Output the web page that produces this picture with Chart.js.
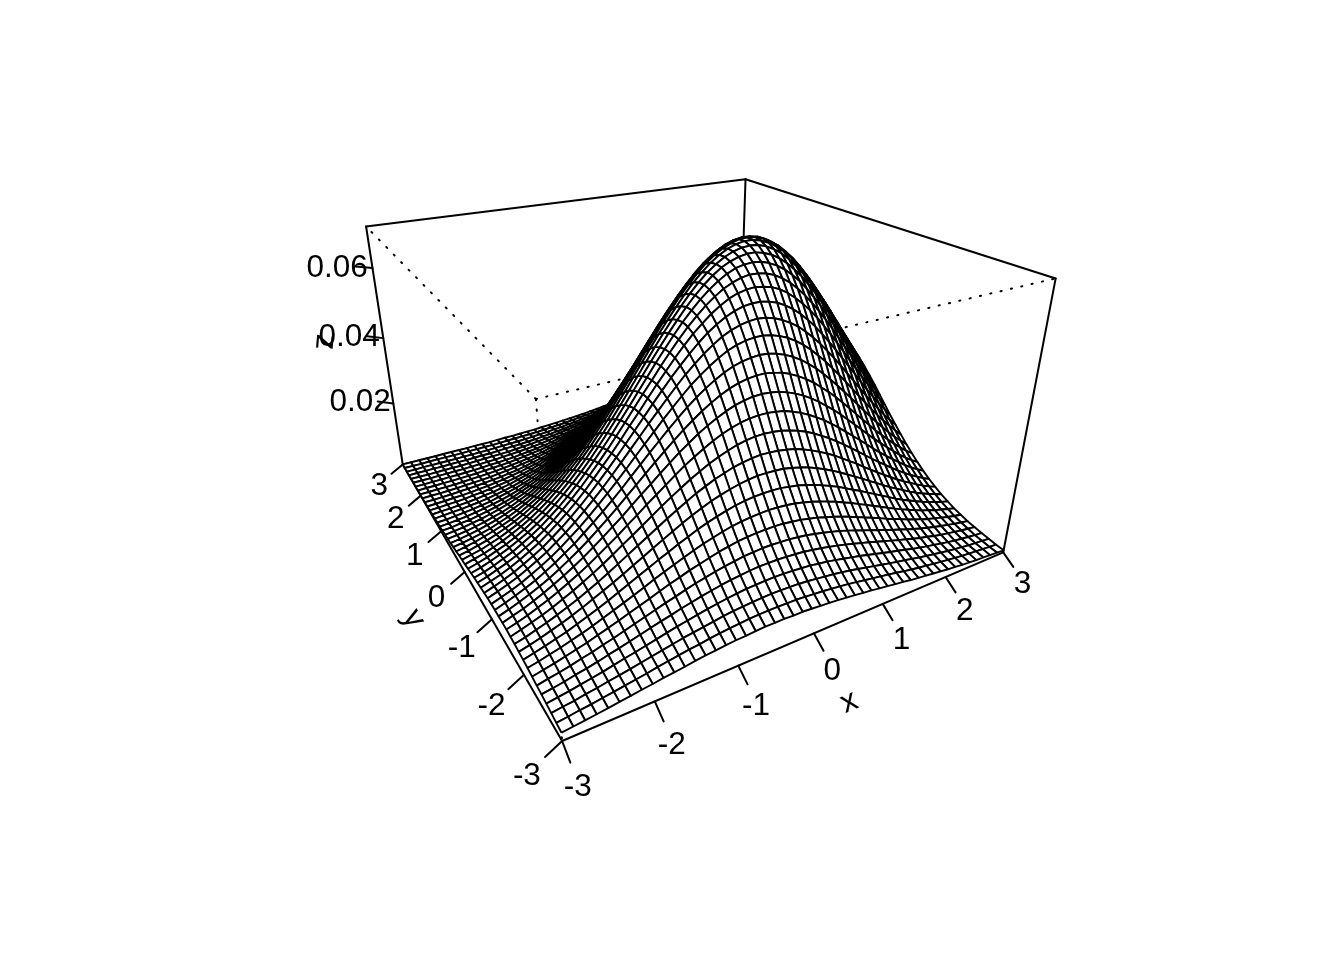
<!DOCTYPE html>
<html>
<head>
<meta charset="utf-8">
<script src="https://cdn.jsdelivr.net/npm/chart.js@4"></script>
<style>
	body { margin: 0; background: #fff; }
	canvas { display: block; }
</style>
</head>
<body>
<canvas id="chart" width="1344" height="960"></canvas>
<script>
const ctx = document.getElementById('chart');

const xValues = [-3, -2.878, -2.755, -2.633, -2.51, -2.388, -2.265, -2.143, -2.02, -1.898, -1.776, -1.653, -1.531, -1.408, -1.286, -1.163, -1.041, -0.918, -0.796, -0.673, -0.551, -0.429, -0.306, -0.184, -0.061, 0.061, 0.184, 0.306, 0.429, 0.551, 0.673, 0.796, 0.918, 1.041, 1.163, 1.286, 1.408, 1.531, 1.653, 1.776, 1.898, 2.02, 2.143, 2.265, 2.388, 2.51, 2.633, 2.755, 2.878, 3];
const yValues = [-3, -2.878, -2.755, -2.633, -2.51, -2.388, -2.265, -2.143, -2.02, -1.898, -1.776, -1.653, -1.531, -1.408, -1.286, -1.163, -1.041, -0.918, -0.796, -0.673, -0.551, -0.429, -0.306, -0.184, -0.061, 0.061, 0.184, 0.306, 0.429, 0.551, 0.673, 0.796, 0.918, 1.041, 1.163, 1.286, 1.408, 1.531, 1.653, 1.776, 1.898, 2.02, 2.143, 2.265, 2.388, 2.51, 2.633, 2.755, 2.878, 3];
// estimated surface heights in units of 0.0001 (rows: y, columns: x)
const zGrid = [
	[21,24,27,30,33,37,40,44,47,51,54,57,61,64,66,69,71,72,74,75,75,75,74,74,72,70,68,66,63,60,57,54,50,47,43,40,36,33,30,27,24,21,19,16,14,12,11,9,8,6],
	[24,27,31,34,38,42,46,50,54,59,63,67,71,74,78,81,84,86,88,89,90,90,89,89,87,85,83,80,77,74,70,66,62,58,54,50,45,41,37,34,30,27,24,21,18,16,14,12,10,8],
	[27,31,34,39,43,48,52,57,62,67,72,77,82,86,90,94,98,101,103,105,106,107,107,106,105,103,100,97,94,90,86,81,76,71,66,61,56,52,47,42,38,34,30,26,23,20,17,15,13,11],
	[30,34,38,43,48,53,59,65,70,76,82,88,94,99,104,109,113,117,120,123,124,125,126,125,124,122,120,116,113,108,103,98,93,87,81,75,69,64,58,52,47,42,38,33,29,25,22,19,16,14],
	[33,37,42,48,53,59,66,72,79,86,93,100,106,113,119,125,130,135,139,142,145,147,147,147,146,144,142,138,134,129,124,118,112,105,99,92,85,78,71,65,58,52,47,41,36,32,28,24,21,18],
	[35,41,46,52,59,65,73,80,88,96,104,112,120,127,135,142,148,154,159,163,167,169,171,171,170,169,166,163,158,153,147,141,134,126,118,110,102,94,86,79,71,64,57,51,45,40,35,30,26,22],
	[38,44,50,57,64,71,80,88,97,106,115,124,134,143,151,160,167,174,181,186,191,194,196,197,197,196,193,190,185,180,173,166,158,150,141,132,123,114,104,95,87,78,70,62,55,49,43,37,32,28],
	[41,47,54,61,69,77,86,96,106,116,126,137,148,158,168,178,187,196,203,210,216,220,223,225,226,225,223,220,215,209,202,194,186,176,167,156,146,135,125,114,104,94,85,76,67,60,52,46,40,34],
	[43,50,57,65,73,83,93,103,114,126,138,150,162,174,185,197,207,218,227,235,242,248,252,255,256,256,255,251,247,241,234,225,216,206,195,183,172,160,148,136,124,112,101,91,81,72,63,56,48,42],
	[45,52,60,69,78,88,99,111,123,135,148,162,175,189,202,215,228,240,251,261,269,276,282,286,289,289,288,286,281,275,268,259,249,238,226,213,200,187,173,160,146,133,121,109,97,86,76,67,59,51],
	[47,54,63,72,82,93,104,117,130,144,159,174,189,204,219,234,248,262,275,286,297,305,313,318,322,324,323,321,317,312,304,295,284,273,260,246,231,217,201,186,171,156,142,128,115,103,91,80,70,61],
	[48,56,65,74,85,97,109,123,137,152,168,185,201,218,235,252,268,283,298,311,324,334,343,351,356,359,360,358,355,349,342,333,322,309,296,281,265,249,232,215,198,182,166,150,135,121,107,95,83,73],
	[49,57,66,77,88,100,114,128,143,160,177,194,213,231,250,268,286,304,321,336,350,363,374,383,390,394,396,396,393,389,381,372,361,348,334,318,301,283,265,247,228,209,191,174,157,141,125,111,98,86],
	[49,58,67,78,90,103,117,132,148,166,184,203,222,243,263,283,303,323,342,359,376,390,403,414,423,429,433,434,432,428,421,412,401,388,373,356,339,320,300,280,260,239,219,200,181,163,145,129,114,101],
	[49,58,68,79,91,104,119,135,152,170,190,210,231,253,275,297,319,340,361,381,399,416,431,444,455,463,468,471,471,467,462,453,442,429,414,396,378,358,337,315,293,271,249,227,206,186,167,149,132,117],
	[49,58,68,79,91,105,120,137,154,174,194,215,237,260,284,308,332,355,378,400,421,440,457,472,485,495,502,506,508,506,501,493,483,470,454,437,417,396,374,351,328,304,280,257,234,212,190,170,152,134],
	[48,57,67,78,91,105,120,137,156,175,196,219,242,266,291,317,342,367,392,416,439,461,480,497,512,525,534,540,543,543,539,532,523,510,495,477,457,436,412,388,363,338,312,287,262,238,215,193,172,153],
	[47,56,66,77,90,104,119,137,155,175,197,220,244,270,296,323,350,377,403,429,454,478,499,519,536,551,562,570,575,577,575,569,560,548,534,516,496,474,450,425,399,372,345,318,291,265,240,216,193,172],
	[45,54,64,75,88,102,117,135,154,174,196,220,245,271,298,326,354,383,411,439,466,491,515,537,557,573,587,597,604,607,607,603,596,585,571,554,534,512,487,461,434,406,378,350,321,293,266,240,216,192],
	[43,52,61,72,85,99,114,132,151,171,193,217,243,270,297,326,356,385,415,445,473,501,527,551,572,591,607,620,629,634,636,633,628,618,605,588,569,547,523,496,469,440,410,380,351,321,293,265,238,213],
	[41,49,59,69,81,95,110,127,146,167,189,213,239,266,294,324,354,385,416,446,477,506,534,560,583,604,622,637,648,656,660,659,655,647,635,620,601,579,555,529,501,472,441,410,380,349,319,289,261,234],
	[39,46,55,66,77,91,106,122,141,161,183,207,233,260,288,318,349,380,412,444,476,506,536,564,589,612,632,649,663,673,678,680,678,671,661,647,629,609,585,559,531,501,470,439,407,375,344,313,283,255],
	[36,43,52,62,73,86,100,116,134,154,176,199,224,251,280,310,341,373,405,438,470,502,533,562,590,615,637,656,672,683,691,695,695,690,682,669,653,633,611,585,558,528,497,465,433,400,367,336,305,275],
	[33,40,48,58,68,80,94,110,127,146,167,190,215,241,270,299,330,362,395,428,461,494,526,556,585,612,636,657,674,688,698,704,706,704,697,686,672,653,632,607,580,551,520,488,456,423,390,357,325,294],
	[30,37,44,53,63,75,88,102,119,137,158,180,204,230,257,287,317,349,381,415,448,481,514,545,575,603,629,651,671,687,699,707,711,711,706,697,684,668,648,625,599,570,540,508,476,442,409,376,343,312],
	[28,34,40,49,58,69,81,95,111,128,147,169,192,216,243,272,302,333,365,398,431,465,497,530,560,590,616,640,662,679,693,703,710,711,709,702,691,677,658,637,612,585,555,524,492,459,426,392,359,327],
	[25,30,37,44,53,63,74,87,102,118,136,156,178,202,228,255,284,315,346,379,412,445,478,510,541,571,599,624,647,666,682,694,702,706,705,701,692,679,663,643,620,594,566,536,505,472,439,406,373,341],
	[22,27,33,40,48,57,67,79,93,108,125,144,165,187,212,238,266,295,325,357,389,422,454,486,518,548,576,602,626,647,664,678,688,694,696,693,687,676,662,644,622,598,572,543,513,481,449,416,384,352],
	[20,24,29,35,42,51,60,71,84,98,114,131,151,172,195,219,246,274,303,333,365,396,428,460,491,521,550,577,601,623,641,657,668,676,680,679,675,667,654,638,619,597,572,545,516,486,455,423,391,359],
	[17,21,26,31,38,45,54,64,75,88,103,119,137,156,178,201,226,252,280,309,339,369,400,431,462,491,520,547,572,594,614,630,643,653,658,660,658,651,641,628,611,591,568,543,515,486,457,426,395,364],
	[15,18,22,27,33,40,47,56,67,78,92,106,123,141,161,182,205,230,256,283,312,341,371,400,430,459,487,514,539,562,582,600,614,625,632,635,635,631,623,612,597,579,558,535,510,483,454,425,395,366],
	[13,16,19,24,29,35,42,50,59,69,81,94,109,126,144,164,185,208,232,258,284,312,340,369,397,425,453,479,504,526,547,565,580,592,601,606,608,606,600,591,578,562,544,523,500,475,448,420,392,364],
	[11,13,17,20,25,30,36,43,51,61,71,83,96,111,128,146,165,186,208,232,257,283,309,336,363,390,416,442,466,489,510,528,544,557,567,573,576,576,572,565,555,541,525,506,485,462,438,412,386,359],
	[9,11,14,17,21,26,31,37,44,52,62,72,84,98,112,129,146,165,186,208,230,254,279,304,329,355,380,404,428,450,471,489,505,519,530,537,542,543,541,536,528,517,503,486,467,447,424,400,376,351],
	[8,9,12,15,18,22,26,32,38,45,53,63,73,85,98,112,128,145,164,184,204,226,249,272,296,320,343,367,389,410,430,449,465,479,490,499,505,507,507,504,498,488,477,462,446,427,407,385,363,339],
	[6,8,10,12,15,18,22,27,32,38,45,54,63,73,85,97,112,127,143,161,180,200,220,242,264,286,308,329,351,371,390,408,424,438,450,459,466,470,471,469,465,458,448,436,422,405,387,368,347,326],
	[5,7,8,10,12,15,19,22,27,32,39,46,53,62,73,84,96,110,124,140,157,175,193,213,232,253,273,293,313,332,351,368,383,397,409,419,426,431,433,433,430,425,417,407,395,381,365,348,329,310],
	[4,5,7,8,10,13,15,19,23,27,32,38,45,53,62,71,82,94,107,121,136,151,168,185,203,222,240,259,277,295,312,329,343,357,369,379,386,392,395,396,395,391,385,377,367,355,341,326,310,292],
	[3,4,5,7,8,10,13,15,19,22,27,32,38,44,52,60,69,80,91,103,116,130,145,160,176,193,210,227,243,260,276,291,305,318,329,339,347,353,357,359,359,357,352,346,338,327,316,303,288,273],
	[3,3,4,5,7,8,10,13,15,18,22,26,31,37,43,50,58,67,77,87,98,111,124,137,151,166,181,196,212,226,241,255,268,280,292,301,309,316,320,323,324,323,320,315,308,300,290,279,266,253],
	[2,3,3,4,5,7,8,10,12,15,18,22,26,30,36,42,48,56,64,73,83,93,105,117,129,142,155,169,182,196,209,222,234,245,256,265,273,279,284,288,289,289,287,284,278,272,264,254,244,232],
	[2,2,3,3,4,5,7,8,10,12,15,18,21,25,29,34,40,46,53,61,69,78,88,98,109,120,132,144,156,168,179,191,202,213,222,231,239,245,250,254,256,257,256,253,249,244,237,230,221,211],
	[1,2,2,3,3,4,5,6,8,10,12,14,17,20,24,28,33,38,44,50,57,65,73,82,91,101,111,121,132,142,153,163,173,183,192,200,207,213,218,222,225,226,226,224,221,217,212,206,198,190],
	[1,1,2,2,3,3,4,5,6,8,9,11,13,16,19,22,26,31,36,41,47,53,60,68,75,84,92,101,110,120,129,138,147,156,164,171,178,184,189,192,195,197,197,197,195,192,188,183,177,170],
	[1,1,1,2,2,3,3,4,5,6,7,9,11,13,15,18,21,25,29,33,38,43,49,55,62,69,76,84,92,100,108,116,124,131,138,145,151,157,161,165,168,170,171,171,170,168,165,161,156,150],
	[1,1,1,1,2,2,2,3,4,5,6,7,8,10,12,14,17,20,23,27,31,35,40,45,50,56,62,69,76,82,89,96,103,110,116,122,128,133,137,141,144,146,147,147,147,146,143,140,136,132],
	[0,1,1,1,1,2,2,2,3,4,4,5,7,8,9,11,13,16,18,21,24,28,32,36,41,45,51,56,62,67,73,79,85,91,96,102,107,111,115,119,121,124,125,126,126,125,123,121,118,115],
	[0,0,1,1,1,1,1,2,2,3,3,4,5,6,7,9,10,12,14,17,19,22,25,29,32,36,41,45,50,55,60,65,70,75,79,84,88,92,96,99,102,104,106,106,107,106,105,104,101,99],
	[0,0,0,1,1,1,1,1,2,2,3,3,4,5,6,7,8,9,11,13,15,17,20,23,26,29,32,36,40,44,48,52,57,61,65,69,73,76,79,82,85,87,88,89,90,90,89,88,86,84],
	[0,0,0,0,0,1,1,1,1,2,2,2,3,4,4,5,6,7,9,10,12,14,16,18,20,23,26,29,32,35,38,42,45,49,52,56,59,62,65,68,70,72,73,74,75,75,75,74,73,71],
];
const xTicks = [-3, -2, -1, 0, 1, 2, 3];
const yTicks = [-3, -2, -1, 0, 1, 2, 3];
const zTicks = [0.02, 0.04, 0.06];

const zMin = 0;
const zMax = 0.0712;

// same camera as persp(theta = -30, phi = 25, expand = 0.6)
const theta = (-30 * Math.PI) / 180;
const phi = (25 * Math.PI) / 180;
const expand = 0.6;
const eye = Math.sqrt(3) + 1;

function toBox(x, y, z) {
	return [x / 3, y / 3, expand * (2 * (z - zMin) / (zMax - zMin) - 1)];
}

function view(b) {
	const x1 = b[0] * Math.cos(theta) + b[1] * Math.sin(theta);
	const z1 = b[0] * Math.sin(theta) - b[1] * Math.cos(theta);
	const y2 = Math.cos(phi) * b[2] - Math.sin(phi) * z1;
	const z2 = Math.sin(phi) * b[2] + Math.cos(phi) * z1;
	const w = 1 + eye - z2;
	return { x: x1 / w, y: y2 / w, depth: z2 };
}

function project(x, y, z) {
	return view(toBox(x, y, z));
}

const datasets = [];

function addLine(points, dash) {
	datasets.push({
		data: points,
		showLine: true,
		borderColor: '#000',
		borderWidth: 2,
		borderDash: dash || [],
		borderCapStyle: 'round',
		pointRadius: 0,
		fill: false,
		clip: false,
	});
}

// mesh cells, nearest first because the first dataset ends up on top
const cells = [];
for (let j = 0; j < yValues.length - 1; j++) {
	for (let i = 0; i < xValues.length - 1; i++) {
		const pts = [
			project(xValues[i], yValues[j], zGrid[j][i] / 10000),
			project(xValues[i + 1], yValues[j], zGrid[j][i + 1] / 10000),
			project(xValues[i + 1], yValues[j + 1], zGrid[j + 1][i + 1] / 10000),
			project(xValues[i], yValues[j + 1], zGrid[j + 1][i] / 10000),
		];
		cells.push({ pts, depth: pts.reduce((s, p) => s + p.depth, 0) / 4 });
	}
}
cells.sort((a, b) => b.depth - a.depth);
cells.forEach((c) => {
	datasets.push({
		data: [...c.pts, c.pts[0]],
		showLine: true,
		borderColor: '#000',
		borderWidth: 1.9,
		borderJoinStyle: 'round',
		backgroundColor: '#fff',
		fill: 'shape',
		pointRadius: 0,
		clip: false,
	});
});

// ticks
const tickLen = 0.03;
const labelLen = 0.06;
const titleLen = 0.11;
const labels = [];

function offset(x, y, z, dir, len) {
	return view([x / 3 + dir[0] * 2 * len, y / 3 + dir[1] * 2 * len, toBox(0, 0, z)[2] + dir[2] * 2 * expand * len]);
}

xTicks.forEach((t) => {
	const dir = [0, -1, -1];
	addLine([project(t, -3, zMin), offset(t, -3, zMin, dir, tickLen)]);
	labels.push({ text: String(t), at: offset(t, -3, zMin, dir, labelLen), rot: 0 });
});
yTicks.forEach((t) => {
	const dir = [-1, 0, -1];
	addLine([project(-3, t, zMin), offset(-3, t, zMin, dir, tickLen)]);
	labels.push({ text: String(t), at: offset(-3, t, zMin, dir, labelLen), rot: 0 });
});
zTicks.forEach((t) => {
	const dir = [-1, 1, 0];
	addLine([project(-3, 3, t), offset(-3, 3, t, dir, tickLen)]);
	labels.push({ text: t.toFixed(2), at: offset(-3, 3, t, dir, labelLen + 0.002), rot: 0 });
});
labels.push({ text: 'x', at: offset(0, -3, zMin, [0, -1, -1], titleLen), rot: -23 });
labels.push({ text: 'y', at: offset(-3, 0, zMin, [-1, 0, -1], titleLen), rot: 60 });
labels.push({ text: 'z', at: offset(-3, 3, 0.0378, [-1, 1, 0], titleLen), rot: 95 });

// box
const c = (x, y, z) => project(x, y, z);
[
	[c(-3, -3, zMin), c(3, -3, zMin)],
	[c(-3, -3, zMin), c(-3, 3, zMin)],
	[c(3, 3, zMin), c(3, -3, zMin)],
	[c(3, 3, zMin), c(-3, 3, zMin)],
	[c(-3, 3, zMin), c(-3, 3, zMax)],
	[c(3, -3, zMin), c(3, -3, zMax)],
	[c(3, 3, zMin), c(3, 3, zMax)],
	[c(-3, 3, zMax), c(3, 3, zMax)],
	[c(3, 3, zMax), c(3, -3, zMax)],
].forEach((e) => addLine(e));
[
	[c(-3, -3, zMax), c(-3, 3, zMax)],
	[c(-3, -3, zMax), c(3, -3, zMax)],
	[c(-3, -3, zMax), c(-3, -3, zMin)],
].forEach((e) => addLine(e, [1.2, 9.4]));

const axisText = {
	id: 'axisText',
	afterDatasetsDraw(chart) {
		const g = chart.ctx;
		g.save();
		g.fillStyle = '#000';
		g.font = '31.5px "Liberation Sans"';
		g.textAlign = 'center';
		g.textBaseline = 'middle';
		labels.forEach((l) => {
			g.save();
			g.translate(chart.scales.x.getPixelForValue(l.at.x) - 1, chart.scales.y.getPixelForValue(l.at.y) + 3);
			g.rotate((l.rot * Math.PI) / 180);
			g.fillText(l.text, 0, 0);
			g.restore();
		});
		g.restore();
	},
};

new Chart(ctx, {
	type: 'scatter',
	data: { datasets },
	plugins: [axisText],
	options: {
		responsive: false,
		animation: false,
		events: [],
		layout: { padding: 0 },
		plugins: { legend: { display: false }, tooltip: { enabled: false } },
		scales: {
			x: { type: 'linear', display: false, min: -678 / 870, max: 666 / 870 },
			y: { type: 'linear', display: false, min: -574 / 870, max: 386 / 870 },
		},
	},
});
</script>
</body>
</html>
